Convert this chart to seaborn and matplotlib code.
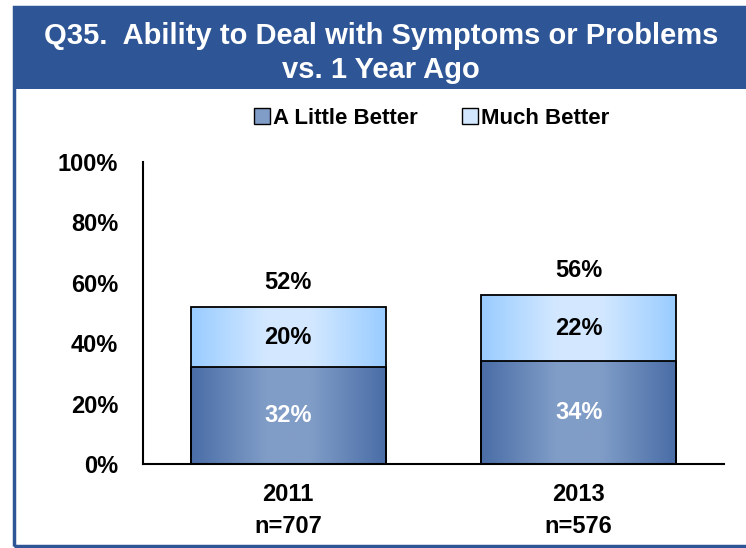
import matplotlib
matplotlib.use("Agg")
import matplotlib.pyplot as plt
import numpy as np
import pandas as pd
import seaborn as sns
from matplotlib.colors import to_rgb
from matplotlib.patches import Patch, Rectangle

YEARS = ["2011", "2013"]
SAMPLE_SIZES = ["n=707", "n=576"]
A_LITTLE_BETTER = [32, 34]
MUCH_BETTER = [20, 22]
TITLE = "Q35.  Ability to Deal with Symptoms or Problems\nvs. 1 Year Ago"

BLUE = "#2E5596"
DARK_EDGE, DARK_MID = "#4A6DA7", "#809DC7"
LIGHT_EDGE, LIGHT_MID = "#99CCFF", "#D3E8FF"

df = pd.DataFrame({
    "year": YEARS,
    "little": A_LITTLE_BETTER,
    "much": MUCH_BETTER,
})
df["total"] = df["little"] + df["much"]

sns.set_theme(style="white")
plt.rcParams["font.family"] = ["Liberation Sans", "DejaVu Sans"]
plt.rcParams["text.color"] = "black"
plt.rcParams["xtick.color"] = "black"
plt.rcParams["ytick.color"] = "black"

fig = plt.figure(figsize=(7.46, 5.48), dpi=100)
ax = fig.add_axes([143 / 746, 84 / 548, 581 / 746, 302 / 548])

sns.barplot(data=df, x="year", y="total", color=LIGHT_EDGE, width=0.67,
            edgecolor="black", linewidth=1.3, ax=ax)
sns.barplot(data=df, x="year", y="little", color=DARK_EDGE, width=0.67,
            edgecolor="black", linewidth=1.3, ax=ax)


def gradient(edge, mid, n=256):
    t = 1 - np.abs(np.linspace(-1, 1, n))
    t = np.clip(t * 1.3, 0, 1)
    e, m = np.array(to_rgb(edge)), np.array(to_rgb(mid))
    return (e[None, :] * (1 - t[:, None]) + m[None, :] * t[:, None])[None, :, :]


n = len(YEARS)
for i, patch in enumerate(ax.patches):
    edge, mid = (LIGHT_EDGE, LIGHT_MID) if i < n else (DARK_EDGE, DARK_MID)
    x0, y0 = patch.get_x(), patch.get_y()
    w, h = patch.get_width(), patch.get_height()
    im = ax.imshow(gradient(edge, mid), extent=[x0, x0 + w, y0, y0 + h],
                   aspect="auto", zorder=1, interpolation="bilinear")
    im.set_clip_path(patch)
    patch.set_facecolor("none")
    patch.set_zorder(2)

ax.set_ylim(0, 100)
ax.set_xlim(-0.5, 1.5)

for i, row in df.iterrows():
    ax.text(i, row["little"] / 2, f"{row['little']}%", ha="center", va="center",
            color="white", fontsize=17, fontweight="bold", zorder=3)
    ax.text(i, row["little"] + row["much"] / 2, f"{row['much']}%", ha="center",
            va="center", color="black", fontsize=17, fontweight="bold", zorder=3)
    ax.text(i, row["total"] + 8, f"{row['total']}%", ha="center", va="center",
            color="black", fontsize=17, fontweight="bold", zorder=3)

ax.set_yticks(range(0, 101, 20))
ax.set_yticklabels([f"{v}%" for v in range(0, 101, 20)], fontsize=17,
                   fontweight="bold")
ax.set_xticks(range(n))
ax.set_xticklabels([f"{y}\n{s}" for y, s in zip(YEARS, SAMPLE_SIZES)],
                   fontsize=17, fontweight="bold", linespacing=1.45)
ax.tick_params(axis="both", length=0, colors="black")
ax.tick_params(axis="y", pad=18)
ax.tick_params(axis="x", pad=14)
ax.set_xlabel("")
ax.set_ylabel("")
for side in ["top", "right"]:
    ax.spines[side].set_visible(False)
for side in ["left", "bottom"]:
    ax.spines[side].set_color("black")
    ax.spines[side].set_linewidth(1.5)

handles = [
    Patch(facecolor=DARK_MID, edgecolor="black", label="A Little Better"),
    Patch(facecolor=LIGHT_MID, edgecolor="black", label="Much Better"),
]
fig.legend(handles=handles, loc="center", bbox_to_anchor=(432 / 746, 1 - 118 / 548),
           ncol=2, frameon=False, prop={"size": 16, "weight": "bold"},
           handlelength=0.7, handleheight=0.7, handletextpad=0.15,
           columnspacing=2.0)

# title banner and frame
fig.patches.append(Rectangle((13 / 746, 1 - 89 / 548), 733 / 746, 82 / 548,
                             transform=fig.transFigure, facecolor=BLUE,
                             edgecolor="none", zorder=0))
fig.patches.append(Rectangle((14 / 746, 1 - 546 / 548), 735 / 746, 539 / 548,
                             transform=fig.transFigure, facecolor="none",
                             edgecolor=BLUE, linewidth=2.5, zorder=0))
fig.text(381 / 746, 1 - 53 / 548, TITLE, ha="center", va="center",
         color="white", fontsize=21, fontweight="bold", linespacing=1.25)

fig.savefig("out.png", dpi=100)
